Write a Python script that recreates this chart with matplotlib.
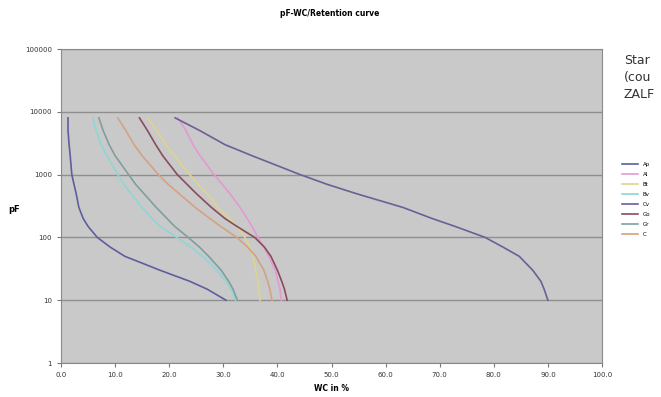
import numpy as np
import matplotlib.pyplot as plt

head = [10, 15, 20, 30, 50, 70, 100, 150, 200, 300, 500, 700, 1000, 2000, 3000, 5000, 8000]

# water content in % per horizon
wc_ap = [30.5, 27.0, 23.8, 18.3, 11.8, 9.1, 6.7, 5.0, 4.1, 3.3, 2.8, 2.4, 2.0, 1.7, 1.5, 1.3, 1.3]
wc_al = [40.7, 40.5, 40.1, 39.6, 38.4, 37.5, 36.4, 35.3, 34.4, 33.1, 31.2, 29.8, 28.3, 25.7, 24.4, 23.1, 21.6]
wc_bt = [36.8, 36.6, 36.4, 36.0, 35.5, 34.9, 34.0, 32.5, 31.1, 29.0, 27.0, 25.3, 23.8, 20.9, 19.4, 17.7, 16.1]
wc_bv = [32.3, 31.4, 30.5, 28.8, 26.2, 24.0, 21.4, 18.3, 16.8, 15.0, 12.9, 11.6, 10.5, 8.5, 7.4, 6.5, 5.9]
wc_cv = [90.0, 89.3, 88.7, 87.2, 84.7, 81.7, 78.4, 72.8, 68.6, 63.2, 54.5, 49.2, 44.2, 35.3, 30.3, 25.7, 21.1]
wc_go = [41.8, 41.3, 40.8, 40.0, 38.8, 37.6, 35.8, 32.5, 30.3, 27.8, 25.0, 23.3, 21.5, 18.8, 17.5, 16.0, 14.5]
wc_gr = [32.6, 31.8, 31.0, 29.6, 27.3, 25.6, 23.5, 21.0, 19.6, 17.6, 15.3, 13.8, 12.5, 10.0, 8.9, 7.8, 7.0]
wc_c = [39.0, 38.6, 38.2, 37.5, 36.0, 34.5, 32.5, 29.5, 27.5, 24.8, 21.8, 19.8, 18.0, 15.0, 13.5, 12.0, 10.5]

labels = ['Ap', 'Al', 'Bt', 'Bv', 'Cv', 'Go', 'Gr', 'C']
series = [wc_ap, wc_al, wc_bt, wc_bv, wc_cv, wc_go, wc_gr, wc_c]
colors = ['#5e5e9e', '#e29ad4', '#ddd58e', '#8fd6d6', '#6c5f96', '#8a4c5c', '#7f9f9f', '#d4a282']

y_ticks = [1, 10, 100, 1000, 10000, 100000]
y_ticklabels = ['1', '10', '100', '1000', '10000', '100000']
x_ticks = [0, 10, 20, 30, 40, 50, 60, 70, 80, 90, 100]

# side note, cut off at the right edge in the original
note_lines = ['Star', '(cou', 'ZALF']

fig = plt.figure(figsize=(6.61, 3.97), dpi=100)
ax = fig.add_axes([61/661, 1-363/397, (602-61)/661, (363-49)/397])
ax.set_facecolor('#c9c9c9')

for wc, lab, col in zip(series, labels, colors):
    ax.plot(wc, head, color=col, lw=1.2, label=lab)

ax.set_yscale('log')
ax.set_ylim(1, 100000)
ax.set_xlim(0, 100)
ax.set_yticks(y_ticks)
ax.set_yticklabels(y_ticklabels)
ax.minorticks_off()
ax.set_xticks(x_ticks)
ax.set_xticklabels(['%.1f' % v for v in x_ticks])
ax.tick_params(labelsize=5, length=3, color='#777777', labelcolor='#333333')
ax.yaxis.grid(True, color='#8f8f8f', lw=1)
ax.set_axisbelow(True)
for s in ax.spines.values():
    s.set_color('#8a8a8a')

ax.set_xlabel('WC in %', fontsize=5.5, fontweight='bold', labelpad=4)
fig.text(14/661, 1-210/397, 'pF', fontsize=6, fontweight='bold', ha='center', va='center')
fig.text(330/661, 1-14/397, 'pF-WC/Retention curve', fontsize=5.5, fontweight='bold', ha='center', va='center')

leg = fig.legend(loc='upper left', bbox_to_anchor=(616/661, 1-156/397), fontsize=4,
                 frameon=True, fancybox=False, edgecolor='white', handlelength=3,
                 labelspacing=0.9, borderpad=0.5)

for i, t in enumerate(note_lines):
    fig.text(624/661, 1-(60+17*i)/397, t, fontsize=9, color='#333333', va='center')

fig.savefig('out.png', dpi=100)
